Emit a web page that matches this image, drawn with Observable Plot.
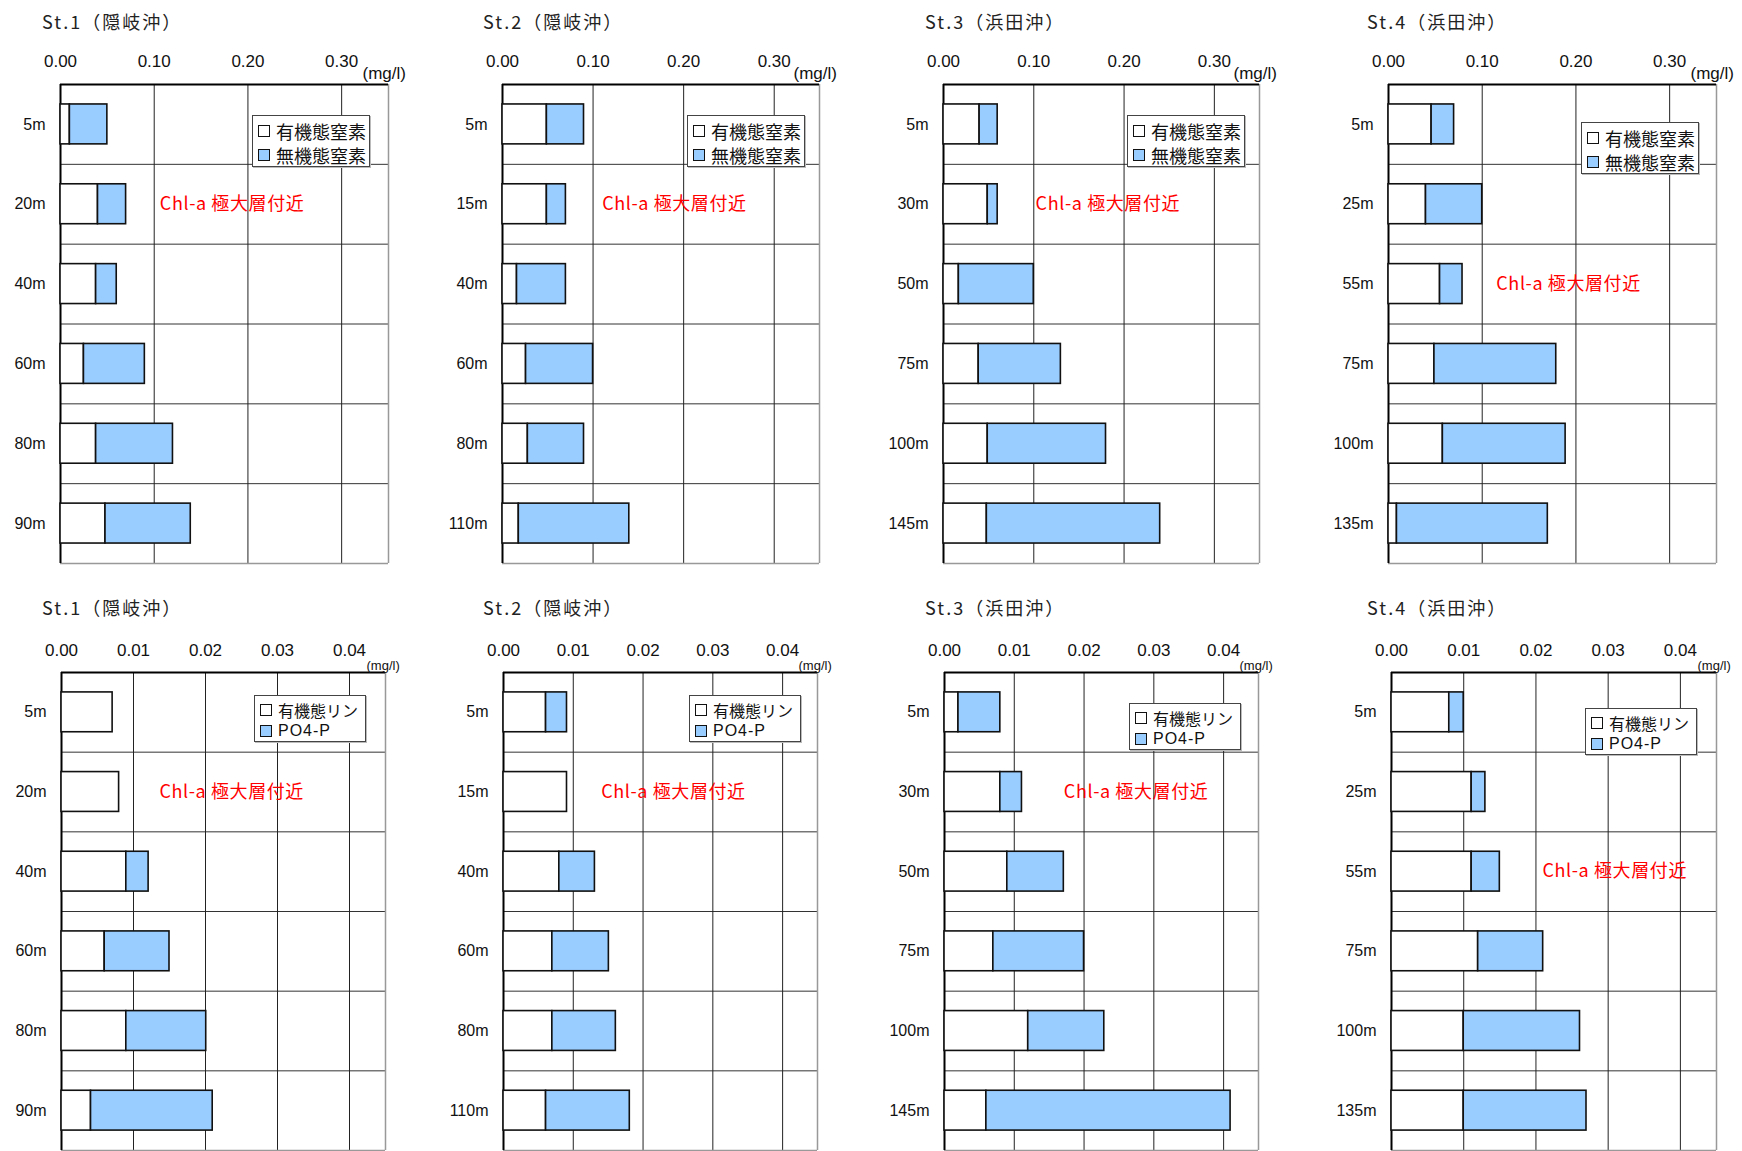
<!DOCTYPE html>
<html><head><meta charset="utf-8">
<script src="https://cdn.jsdelivr.net/npm/d3@7"></script>
<script src="https://cdn.jsdelivr.net/npm/@observablehq/plot@0.6"></script>
<style>
body{margin:0;background:#fff;}
#root{position:relative;width:1742px;height:1151px;overflow:hidden;background:#fff;font-family:"Noto Sans CJK JP",sans-serif;}
.title{position:absolute;font-size:18px;letter-spacing:2px;color:#222;white-space:nowrap;line-height:18px;}
.panel{position:absolute;}
.panel svg{overflow:visible;max-width:none !important;}
.panel g[fill="#ff0000"] text{letter-spacing:0.6px;}
.legend{position:absolute;background:#fff;border:1px solid #444;box-shadow:1px 1px 0 #bbb;box-sizing:border-box;padding:3px 0 0 5px;color:#111;}
.legend .row{display:flex;align-items:center;white-space:nowrap;}
.legend .sw{width:10px;height:10px;border:1.5px solid #111;margin-right:6px;flex:none;}
</style></head><body><div id="root"></div>
<script>
// ---- data ----
const stations = ["St.1（隠岐沖）", "St.2（隠岐沖）", "St.3（浜田沖）", "St.4（浜田沖）"];
const depthsSt1 = ["5m", "20m", "40m", "60m", "80m", "90m"];
const depthsSt2 = ["5m", "15m", "40m", "60m", "80m", "110m"];
const depthsSt3 = ["5m", "30m", "50m", "75m", "100m", "145m"];
const depthsSt4 = ["5m", "25m", "55m", "75m", "100m", "135m"];

// nitrogen (mg/l)
const orgN_St1 = [0.010, 0.040, 0.038, 0.025, 0.038, 0.048];
const inorgN_St1 = [0.040, 0.030, 0.022, 0.065, 0.082, 0.091];
const orgN_St2 = [0.049, 0.049, 0.016, 0.026, 0.028, 0.018];
const inorgN_St2 = [0.041, 0.021, 0.054, 0.074, 0.062, 0.122];
const orgN_St3 = [0.040, 0.049, 0.017, 0.039, 0.049, 0.048];
const inorgN_St3 = [0.020, 0.011, 0.083, 0.091, 0.131, 0.192];
const orgN_St4 = [0.046, 0.040, 0.055, 0.049, 0.058, 0.009];
const inorgN_St4 = [0.024, 0.060, 0.024, 0.130, 0.131, 0.161];

// phosphorus (mg/l)
const orgP_St1 = [0.0071, 0.0080, 0.0090, 0.0060, 0.0090, 0.0041];
const po4P_St1 = [0.0000, 0.0000, 0.0031, 0.0090, 0.0111, 0.0169];
const orgP_St2 = [0.0061, 0.0091, 0.0080, 0.0070, 0.0070, 0.0061];
const po4P_St2 = [0.0030, 0.0000, 0.0051, 0.0081, 0.0091, 0.0120];
const orgP_St3 = [0.0020, 0.0080, 0.0090, 0.0070, 0.0120, 0.0060];
const po4P_St3 = [0.0060, 0.0031, 0.0081, 0.0130, 0.0109, 0.0350];
const orgP_St4 = [0.0080, 0.0111, 0.0111, 0.0120, 0.0100, 0.0100];
const po4P_St4 = [0.0020, 0.0019, 0.0039, 0.0090, 0.0161, 0.0170];

const ticksN = [0, 0.1, 0.2, 0.3];
const ticksP = [0, 0.01, 0.02, 0.03, 0.04];
const maxN = 0.35, maxP = 0.045;
const legendN = ["有機態窒素", "無機態窒素"];
const legendP = ["有機態リン", "PO4-P"];
const unitLabel = "(mg/l)";
const chlLabel = "Chl-a 極大層付近";
// annotation anchor: depth row index and x value (data units)
const chlRowN = [1, 1, 1, 2], chlXN = [0.106, 0.110, 0.102, 0.115];
const chlRowP = [1, 1, 1, 2], chlXP = [0.0136, 0.0140, 0.0171, 0.0209];

// ---- layout ----
const ML = 60, MR = 40, MT = 40, MB = 2;
const rowsLayout = [
  {lefts: [60, 502, 943, 1388], widths: [328, 317, 316, 328], frameTop: 84, frameH: 479, titleTop: 12, tickPad: 18,
   legend: [[252,115],[687,115],[1127,115],[1581,122]], legW: 118, legH: 52, legFont: 18, legRow: 24, unitFont: 17, unitDx: -26, unitDy: -18},
  {lefts: [61, 503, 944, 1391], widths: [324, 314, 314, 325], frameTop: 672, frameH: 478, titleTop: 598, tickPad: 17,
   legend: [[254,695],[689,695],[1129,703],[1585,708]], legW: 112, legH: 47, legFont: 16, legRow: 21, unitFont: 13, unitDx: -19, unitDy: -12}
];
const titleLefts = [42, 483, 925, 1367];

const depthsAll = [depthsSt1, depthsSt2, depthsSt3, depthsSt4];
const nSets = [[orgN_St1, inorgN_St1], [orgN_St2, inorgN_St2], [orgN_St3, inorgN_St3], [orgN_St4, inorgN_St4]];
const pSets = [[orgP_St1, po4P_St1], [orgP_St2, po4P_St2], [orgP_St3, po4P_St3], [orgP_St4, po4P_St4]];

const root = document.getElementById("root");
const fmt = d3.format(".2f");

function makePanel(depths, org, inorg, ticks, xMax, chlX, chlRow, frameW, frameH, L) {
  const n = depths.length;
  const segs = [];
  depths.forEach((d, i) => {
    segs.push({i, type: "org", x1: 0, x2: org[i]});
    if (inorg[i] > 0) segs.push({i, type: "inorg", x1: org[i], x2: org[i] + inorg[i]});
  });
  return Plot.plot({
    width: ML + frameW + MR, height: MT + frameH + MB,
    marginLeft: ML, marginRight: MR, marginTop: MT, marginBottom: MB,
    style: {fontFamily: '"Liberation Sans","Noto Sans CJK JP",sans-serif', fontSize: "16px", color: "#111", background: "transparent", overflow: "visible"},
    x: {domain: [0, xMax]},
    y: {domain: [0, n], reverse: true},
    color: {domain: ["org", "inorg"], range: ["#ffffff", "#99ccff"]},
    marks: [
      Plot.ruleY(d3.range(1, n), {stroke: "#333", strokeWidth: 1}),
      Plot.ruleX(ticks.slice(1), {stroke: "#222", strokeWidth: 1}),
      Plot.ruleX([xMax], {stroke: "#999", strokeWidth: 1.5}),
      Plot.ruleY([n], {stroke: "#999", strokeWidth: 1.5}),
      Plot.ruleX([0], {stroke: "#000", strokeWidth: 2}),
      Plot.ruleY([0], {stroke: "#000", strokeWidth: 2}),
      Plot.rectX(segs, {x1: "x1", x2: "x2", y1: d => d.i + 0.25, y2: d => d.i + 0.75, fill: "type", stroke: "#111", strokeWidth: 1.6}),
      Plot.axisX({anchor: "top", ticks, tickFormat: fmt, tickSize: 0, tickPadding: L.tickPad, fontSize: 17, label: null}),
      Plot.axisY({anchor: "left", ticks: d3.range(n).map(i => i + 0.5), tickFormat: t => depths[Math.floor(t)], tickSize: 0, tickPadding: 15, fontSize: 16, label: null}),
      Plot.text([unitLabel], {frameAnchor: "top-right", textAnchor: "start", dx: L.unitDx, dy: L.unitDy, fontSize: L.unitFont}),
      Plot.text([chlLabel], {x: chlX, y: chlRow + 0.5, textAnchor: "start", fill: "#ff0000", fontSize: 18, fontFamily: '"Noto Sans CJK JP",sans-serif'})
    ]
  });
}

function addLegend(L, k, labels) {
  const box = document.createElement("div");
  box.className = "legend";
  box.style.left = L.legend[k][0] + "px";
  box.style.top = L.legend[k][1] + "px";
  box.style.width = L.legW + "px";
  box.style.height = L.legH + "px";
  box.style.fontSize = L.legFont + "px";
  const fills = ["#ffffff", "#99ccff"];
  labels.forEach((t, j) => {
    const r = document.createElement("div");
    r.className = "row";
    r.style.height = L.legRow + "px";
    const sw = document.createElement("span");
    sw.className = "sw";
    sw.style.background = fills[j];
    const tx = document.createElement("span");
    tx.textContent = t;
    if (t === "PO4-P") { tx.style.fontFamily = '"Liberation Sans",sans-serif'; tx.style.letterSpacing = "1px"; }
    r.appendChild(sw); r.appendChild(tx);
    box.appendChild(r);
  });
  root.appendChild(box);
}

rowsLayout.forEach((L, r) => {
  for (let k = 0; k < 4; k++) {
    const t = document.createElement("div");
    t.className = "title";
    t.style.left = titleLefts[k] + "px";
    t.style.top = L.titleTop + "px";
    t.textContent = stations[k];
    root.appendChild(t);

    const isN = r === 0;
    const set = isN ? nSets[k] : pSets[k];
    const svg = makePanel(depthsAll[k], set[0], set[1], isN ? ticksN : ticksP, isN ? maxN : maxP,
      isN ? chlXN[k] : chlXP[k], isN ? chlRowN[k] : chlRowP[k], L.widths[k], L.frameH, L);
    const div = document.createElement("div");
    div.className = "panel";
    div.style.left = (L.lefts[k] - ML) + "px";
    div.style.top = (L.frameTop - MT) + "px";
    div.style.width = (ML + L.widths[k] + MR) + "px";
    div.appendChild(svg);
    root.appendChild(div);

    addLegend(L, k, isN ? legendN : legendP);
  }
});
</script>
</body></html>
